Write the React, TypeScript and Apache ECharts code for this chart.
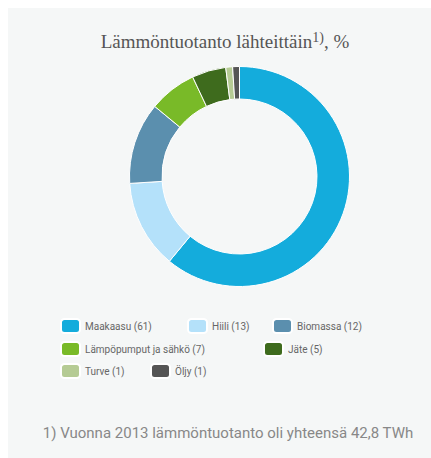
import React, { useEffect, useRef } from "react";
import * as echarts from "echarts";

const categories = ["Maakaasu", "Hiili", "Biomassa", "Lämpöpumput ja sähkö", "Jäte", "Turve", "Öljy"];
const values = [61, 13, 12, 7, 5, 1, 1];
const colors = ["#14acdc", "#b4e1fa", "#5b8fae", "#79ba28", "#3e6b1d", "#b5cb94", "#555555"];
const titleMain = "Lämmöntuotanto lähteittäin";
const titleSup = "1)";
const titleTail = ", %";
const footnote = "1) Vuonna 2013 lämmöntuotanto oli yhteensä 42,8 TWh";

// legend placement (left, top) per item
const legendPos: [number, number][] = [
  [52, 310],
  [179, 310],
  [264, 310],
  [52, 333],
  [255, 333],
  [52, 355],
  [142, 355],
];

export default function App() {
  const ref = useRef<HTMLDivElement>(null);
  useEffect(() => {
    if (!ref.current) return;
    const chart = echarts.init(ref.current, null, { renderer: "svg" });
    const legends = categories.map((c, i) => ({
      data: [c],
      left: legendPos[i][0],
      top: legendPos[i][1],
      padding: 0,
      itemWidth: 19,
      itemHeight: 14,
      itemGap: 5,
      icon: "roundRect",
      selectedMode: false,
      formatter: (n: string) => `${n} (${values[categories.indexOf(n)]})`,
      textStyle: { fontFamily: "Roboto", fontSize: 10, color: "#666666", padding: [0, 0, 0, 0] },
    }));
    chart.setOption({
      animation: false,
      backgroundColor: "transparent",
      color: colors,
      title: {
        text: `{a|${titleMain}}{b|${titleSup}}{a|${titleTail}}`,
        left: 212,
        top: 17,
        textAlign: "center",
        textStyle: {
          fontWeight: "normal",
          rich: {
            a: { fontFamily: "Liberation Serif", fontSize: 19, fontWeight: "normal", color: "#555555" },
            b: { fontFamily: "Liberation Serif", fontSize: 14, fontWeight: "normal", color: "#555555", padding: [0, 0, 9, 0] },
          },
        },
      },
      legend: legends,
      graphic: [
        {
          type: "text",
          x: 220,
          y: 425,
          style: {
            text: footnote,
            fontFamily: "Roboto",
            fontSize: 15,
            fill: "#888888",
            align: "center",
            verticalAlign: "middle",
          },
        },
      ],
      series: [
        {
          type: "pie",
          center: [231.5, 168.5],
          radius: [77.5, 110],
          startAngle: 90,
          clockwise: true,
          label: { show: false },
          labelLine: { show: false },
          silent: true,
          itemStyle: { borderColor: "#ffffff", borderWidth: 1 },
          data: categories.map((c, i) => ({ name: c, value: values[i] })),
        },
      ],
    });
    return () => chart.dispose();
  }, []);
  return (
    <div
      style={{
        position: "fixed",
        left: 8,
        top: 8,
        width: 423,
        height: 450,
        background: "#f5f7f7",
      }}
    >
      <div ref={ref} style={{ width: 423, height: 450 }} />
    </div>
  );
}
